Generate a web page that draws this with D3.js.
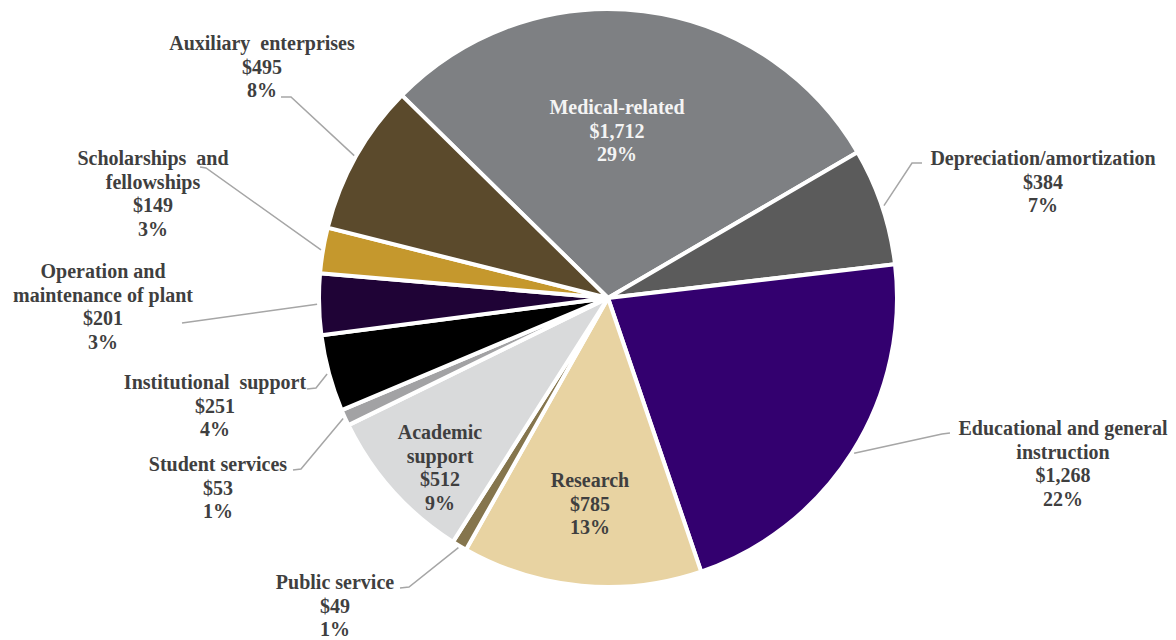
<!DOCTYPE html>
<html>
<head>
<meta charset="utf-8">
<script src="https://cdn.jsdelivr.net/npm/d3@7"></script>
<style>
  html, body { margin: 0; padding: 0; background: #fff; }
  svg { display: block; }
  text { font-family: "Liberation Serif", "Times New Roman", serif; font-weight: bold; font-size: 20px; }
</style>
</head>
<body>
<svg id="chart" width="1176" height="640"></svg>
<script>
// Expense categories (millions of dollars), in clockwise order from the top
const categories = [
  "Medical-related",
  "Depreciation/amortization",
  "Educational and general instruction",
  "Research",
  "Public service",
  "Academic support",
  "Student services",
  "Institutional support",
  "Operation and maintenance of plant",
  "Scholarships and fellowships",
  "Auxiliary enterprises"
];
const amounts = [1712, 384, 1268, 785, 49, 512, 53, 251, 201, 149, 495];
const percentLabels = ["29%", "7%", "22%", "13%", "1%", "9%", "1%", "4%", "3%", "3%", "8%"];
// Wrapped name lines used in the labels
const nameLines = [
  ["Medical-related"],
  ["Depreciation/amortization"],
  ["Educational and general", "instruction"],
  ["Research"],
  ["Public service"],
  ["Academic", "support"],
  ["Student services"],
  ["Institutional  support"],
  ["Operation and", "maintenance of plant"],
  ["Scholarships  and", "fellowships"],
  ["Auxiliary  enterprises"]
];
const sliceColors = ["#7e8083", "#5b5b5b", "#33006f", "#e8d3a2", "#85754d", "#d9dadb",
                     "#a2a2a4", "#000000", "#1f0336", "#c5982d", "#5b4a2c"];

// Layout: label centre x, first-line centre y, text colour, and the leader's
// label-side start and elbow points (null when the label sits inside its slice)
const labelLayout = [
  { x: 617, y: 107, fill: "#f4f4f4", lead: null },
  { x: 1043, y: 158, fill: "#3f3f3f", lead: [[922, 163], [912, 163]] },
  { x: 1063, y: 428, fill: "#3f3f3f", lead: [[950, 433], [942, 434]] },
  { x: 590, y: 480, fill: "#3f3f3f", lead: null },
  { x: 335, y: 582, fill: "#3f3f3f", lead: [[400, 588], [409, 587]] },
  { x: 440, y: 432, fill: "#3f3f3f", lead: null },
  { x: 218, y: 464, fill: "#3f3f3f", lead: [[293, 470], [301, 469]] },
  { x: 215, y: 382, fill: "#3f3f3f", lead: [[307, 389], [316, 388]] },
  { x: 103, y: 271, fill: "#3f3f3f", lead: [[182, 323], [182, 323]] },
  { x: 153, y: 158, fill: "#3f3f3f", lead: [[200, 167], [206, 168]] },
  { x: 262, y: 43, fill: "#3f3f3f", lead: [[281, 97], [291, 97]] }
];

const cx = 608, cy = 298, radius = 289, lineH = 23.7;
const startAngle = -45.5 * Math.PI / 180;

const svg = d3.select("#chart");
const g = svg.append("g").attr("transform", `translate(${cx},${cy})`);

const rows = categories.map((c, i) => ({
  name: c, value: amounts[i], pct: percentLabels[i], lines: nameLines[i],
  color: sliceColors[i], layout: labelLayout[i]
}));

const pie = d3.pie().sort(null).value(d => d.value)
  .startAngle(startAngle).endAngle(startAngle + 2 * Math.PI);
const arc = d3.arc().innerRadius(0).outerRadius(radius);
const arcs = pie(rows);

// Slices with white separators
g.selectAll("path.slice")
  .data(arcs)
  .join("path")
  .attr("class", "slice")
  .attr("d", arc)
  .attr("fill", d => d.data.color)
  .attr("stroke", "#ffffff")
  .attr("stroke-width", 4)
  .attr("stroke-linejoin", "round");

// Leader lines from outside labels to the middle of each slice's rim
const rimArc = d3.arc().innerRadius(radius + 2).outerRadius(radius + 2);
svg.selectAll("path.leader")
  .data(arcs.filter(d => d.data.layout.lead))
  .join("path")
  .attr("class", "leader")
  .attr("fill", "none")
  .attr("stroke", "#a6a6a6")
  .attr("stroke-width", 1.5)
  .attr("d", d => {
    const [p0, p1] = d.data.layout.lead;
    const [ex, ey] = rimArc.centroid(d);
    return d3.line()([p0, p1, [cx + ex, cy + ey]]);
  });

// Labels: name lines, dollar amount, share
const labels = svg.selectAll("text.label")
  .data(arcs)
  .join("text")
  .attr("class", "label")
  .attr("text-anchor", "middle")
  .attr("fill", d => d.data.layout.fill);

labels.each(function (d) {
  const t = d3.select(this);
  const lines = [...d.data.lines, "$" + d3.format(",")(d.data.value), d.data.pct];
  lines.forEach((ln, k) => {
    t.append("tspan")
      .attr("x", d.data.layout.x)
      .attr("y", d.data.layout.y + k * lineH)
      .attr("dy", "0.35em")
      .style("white-space", "pre")
      .text(ln);
  });
});
</script>
</body>
</html>
